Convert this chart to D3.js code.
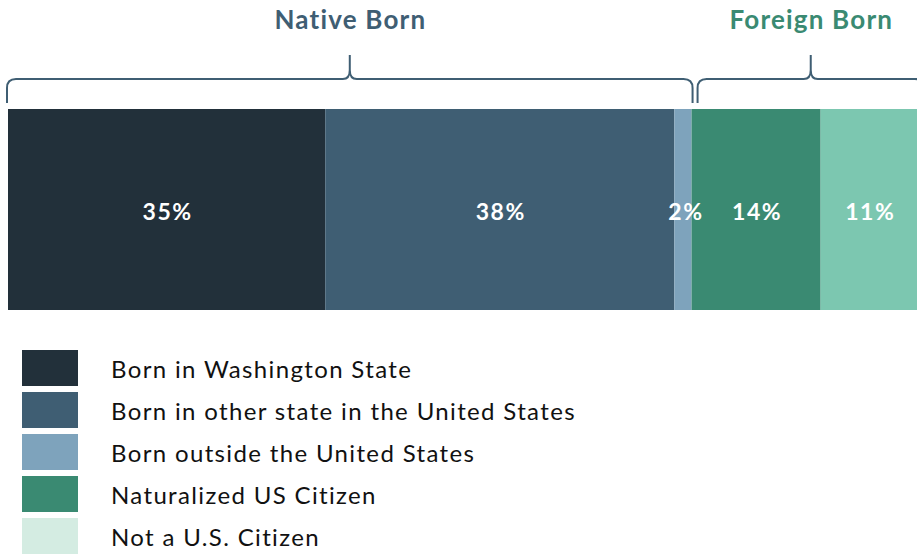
<!DOCTYPE html>
<html><head><meta charset="utf-8">
<script src="https://cdn.jsdelivr.net/npm/d3@7"></script>
<style>html,body{margin:0;padding:0;background:#fff;overflow:hidden}</style>
</head><body>
<svg id="c" width="917" height="554"></svg>
<script>
const categories = ["Born in Washington State","Born in other state in the United States","Born outside the United States","Naturalized US Citizen","Not a U.S. Citizen"];
const values = [34.9, 38.4, 1.9, 14.2, 10.7];
const valueLabels = ["35%","38%","2%","14%","11%"];
const barColors = ["#22303a","#3f5e73","#7ea3bc","#3a8a72","#7cc7b0"];
const legendColors = ["#22303a","#3f5e73","#7ea3bc","#3a8a72","#d4ece2"];
const groups = [{name:"Native Born", from:0, to:3, color:"#3f5e73"},{name:"Foreign Born", from:3, to:5, color:"#3a8a72"}];

const FONT = "Lato, 'Open Sans', sans-serif";
const svg = d3.select("#c");
const x = d3.scaleLinear().domain([0,100]).range([8,917]);
const stacks = [];
let acc = 0;
values.forEach((v,i)=>{stacks.push({i, x0:acc, x1:acc+v}); acc+=v;});

const barTop = 109, barH = 201;
svg.selectAll("rect.seg").data(stacks).join("rect").attr("class","seg")
  .attr("x",d=>x(d.x0)).attr("y",barTop).attr("width",d=>x(d.x1)-x(d.x0)).attr("height",barH)
  .attr("fill",d=>barColors[d.i]);
svg.selectAll("text.val").data(stacks).join("text").attr("class","val")
  .attr("x",d=>(x(d.x0)+x(d.x1))/2 + (d.i===2?3:1)).attr("y",220)
  .attr("text-anchor","middle").attr("fill","#fff").attr("font-family",FONT)
  .attr("font-weight","bold").attr("font-size",23).attr("letter-spacing",1.5)
  .text(d=>valueLabels[d.i]);

function brace(x0,x1,mid){
  const yb=103, yh=79, yt=55, r=9;
  return `M${x0},${yb} L${x0},${yh+r} Q${x0},${yh} ${x0+r},${yh} L${mid-7},${yh} Q${mid},${yh} ${mid},${yh-9} L${mid},${yt} L${mid},${yh-9} Q${mid},${yh} ${mid+7},${yh} L${x1-r},${yh} Q${x1},${yh} ${x1},${yh+r} L${x1},${yb}`;
}
groups.forEach((g,gi)=>{
  const s0 = stacks[g.from].x0, s1 = stacks[g.to-1].x1;
  const bx0 = gi===0 ? x(s0)-1 : x(s0)+6;
  const bx1 = gi===0 ? x(s1)+1 : x(s1)+6;
  const mid = (bx0+bx1)/2;
  svg.append("path").attr("d",brace(bx0,bx1,mid)).attr("fill","none")
    .attr("stroke","#3f5e73").attr("stroke-width",2);
  svg.append("text").attr("x",mid + 0.6).attr("y",29).attr("text-anchor","middle")
    .attr("fill",g.color).attr("font-family",FONT).attr("font-weight","bold")
    .attr("font-size",26).attr("letter-spacing",1.2).text(g.name);
});

const lg = svg.selectAll("g.lg").data(categories).join("g").attr("class","lg")
  .attr("transform",(d,i)=>`translate(22,${350+i*42})`);
lg.append("rect").attr("width",56).attr("height",36).attr("fill",(d,i)=>legendColors[i]);
lg.append("text").attr("x",89).attr("y",28).attr("font-family",FONT)
  .attr("font-size",24).attr("letter-spacing",1.35).attr("fill","#111").text(d=>d);
</script>
</body></html>
